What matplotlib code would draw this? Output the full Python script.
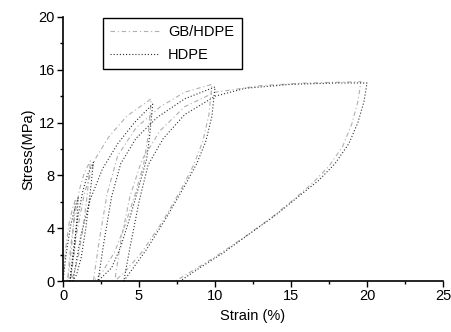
import matplotlib
matplotlib.use("Agg")
import matplotlib.pyplot as plt
from matplotlib.ticker import MultipleLocator

# HDPE, cyclic loading / unloading
hdpe_strain = [0, 0.2, 0.5, 0.8, 1.0,
               0.9, 0.75, 0.55, 0.45,
               0.7, 1.0, 1.3, 1.6, 2.0,
               1.8, 1.5, 1.2, 0.9, 0.65,
               1.2, 1.8, 2.6, 3.6, 4.7, 5.9,
               5.7, 5.5, 4.9, 4.4, 3.8, 3.2, 2.3,
               2.7, 3.2, 3.8, 4.8, 6.2, 8.0, 10.0,
               9.8, 9.4, 8.8, 8.0, 6.8, 5.5, 4.5, 4.0,
               4.4, 5.0, 5.6, 6.6, 8.0, 10.0, 12.0, 15.0, 18.0, 20.0,
               19.8, 19.4, 18.8, 17.9, 16.8, 15.6, 14.0, 12.3, 10.5, 9.0, 7.7]
hdpe_stress = [0, 2.0, 4.2, 5.6, 6.3,
               4.5, 2.5, 0.8, 0,
               2.5, 5.0, 6.8, 8.0, 9.0,
               6.8, 4.0, 1.8, 0.5, 0,
               3.6, 6.2, 8.5, 10.4, 12.0, 13.4,
               11.0, 9.2, 6.8, 4.8, 2.6, 1.0, 0,
               3.0, 6.4, 8.9, 10.8, 12.4, 13.8, 14.7,
               12.5, 10.6, 8.9, 7.2, 4.8, 2.4, 0.8, 0,
               2.5, 6.0, 8.8, 10.8, 12.6, 14.0, 14.6, 14.9, 15.0, 15.0,
               13.6, 12.0, 10.4, 8.9, 7.6, 6.5, 5.0, 3.6, 2.1, 1.0, 0]

# GB/HDPE
gb_strain = [0, 0.15, 0.4, 0.65, 0.8,
             0.7, 0.55, 0.4, 0.3,
             0.5, 0.8, 1.1, 1.4, 1.8,
             1.6, 1.3, 1.0, 0.7, 0.5,
             0.9, 1.4, 2.1, 3.0, 4.2, 5.8,
             5.6, 5.3, 4.7, 4.1, 3.4, 2.6, 2.0,
             2.4, 2.9, 3.6, 4.8, 6.4, 8.0, 9.8,
             9.6, 9.2, 8.6, 7.8, 6.6, 5.2, 4.0, 3.4,
             3.8, 4.4, 5.2, 6.4, 8.0, 10.0, 13.0, 16.0, 19.6,
             19.4, 19.0, 18.4, 17.5, 16.4, 15.2, 13.6, 11.9, 10.1, 8.7, 7.4]
gb_stress = [0, 2.2, 4.4, 5.6, 6.1,
             4.4, 2.4, 0.8, 0,
             2.6, 5.2, 7.0, 8.2, 9.1,
             6.6, 3.8, 1.8, 0.5, 0,
             3.6, 6.6, 9.2, 10.9, 12.5, 13.8,
             11.0, 8.8, 6.4, 4.3, 2.2, 0.7, 0,
             3.2, 6.6, 9.5, 11.6, 13.2, 14.3, 14.9,
             12.6, 10.6, 8.8, 7.0, 4.6, 2.2, 0.6, 0,
             3.0, 6.4, 9.2, 11.4, 13.2, 14.3, 14.8, 15.0, 15.1,
             13.6, 11.9, 10.2, 8.7, 7.4, 6.2, 4.7, 3.3, 1.9, 0.9, 0]

plt.rcParams['font.family'] = ['Liberation Sans', 'DejaVu Sans']
plt.rcParams['font.size'] = 10.5

fig = plt.figure(figsize=(4.51, 3.32), dpi=100)
ax = fig.add_axes([0.1397, 0.1536, 0.8426, 0.7952])

ax.plot(gb_strain, gb_stress, color='#b0b0b0', lw=0.8,
        linestyle=(0, (4, 2.5, 1, 2.5)), label='GB/HDPE')
ax.plot(hdpe_strain, hdpe_stress, color='#303030', lw=0.8,
        linestyle=(0, (1, 1.8)), label='HDPE')

ax.set_xlim(0, 25)
ax.set_ylim(0, 20)
ax.xaxis.set_major_locator(MultipleLocator(5))
ax.xaxis.set_minor_locator(MultipleLocator(2.5))
ax.yaxis.set_major_locator(MultipleLocator(4))
ax.yaxis.set_minor_locator(MultipleLocator(2))
ax.tick_params(which='major', length=4, width=1, direction='out', pad=2)
ax.tick_params(which='minor', length=2.5, width=1, direction='out')

for s in ['top', 'right']:
    ax.spines[s].set_visible(False)
for s in ['left', 'bottom']:
    ax.spines[s].set_linewidth(1.2)

ax.set_xlabel('Strain (%)', labelpad=4)
ax.set_ylabel('Stress(MPa)', labelpad=2)

leg = ax.legend(loc='upper left', bbox_to_anchor=(0.085, 1.025),
                fancybox=False, edgecolor='black', framealpha=1,
                handlelength=3.4, borderpad=0.5, labelspacing=0.6,
                handletextpad=0.6)
leg.get_frame().set_linewidth(1.0)

fig.savefig('out.png', dpi=100)
